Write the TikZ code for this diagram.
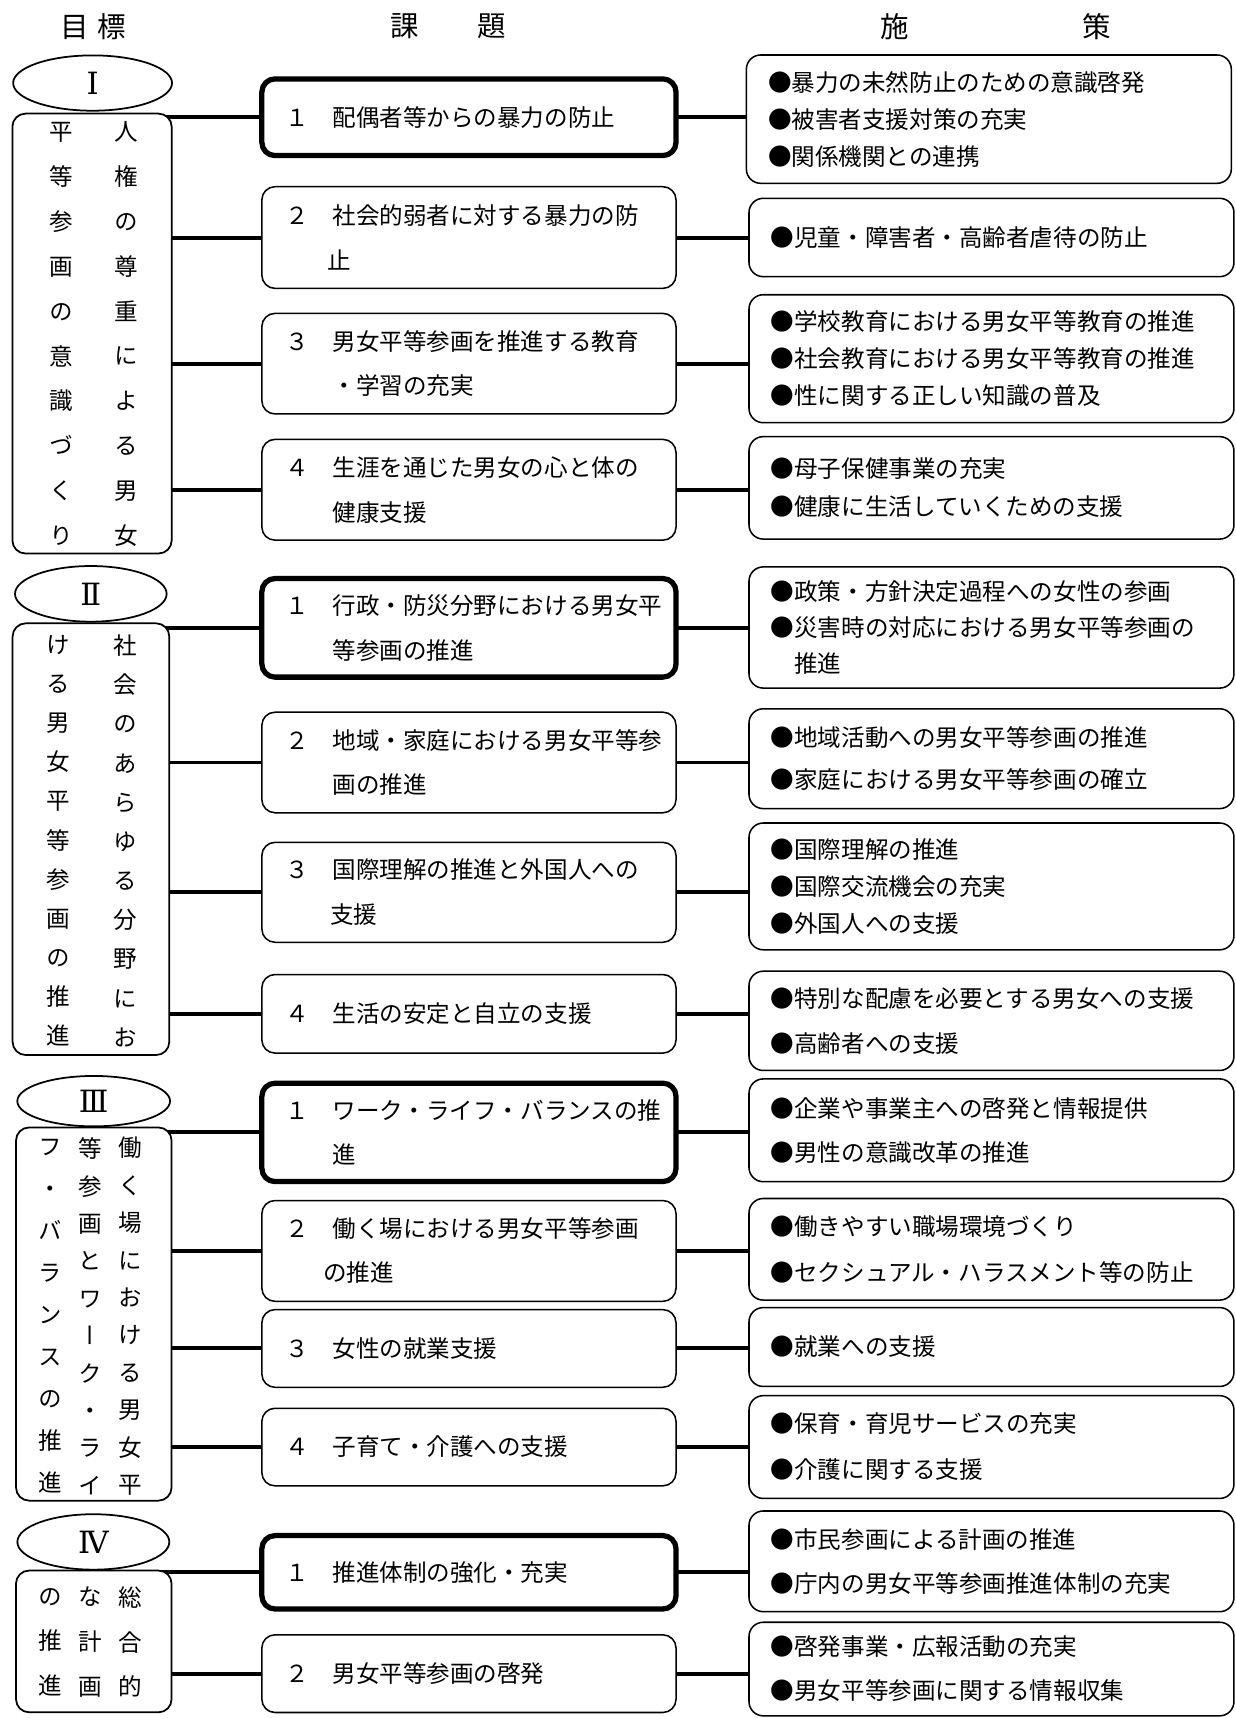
\documentclass[tikz,border=0pt]{standalone}
\usepackage{fontspec}
\setmainfont{Noto Sans CJK JP}
\newfontfamily\vertfont[RawFeature={+vert}]{Noto Sans CJK JP}
\newfontfamily\numfont{DejaVu Serif}
\usetikzlibrary{shapes.geometric,backgrounds}
\begin{document}
\begin{tikzpicture}[x=0.5pt,y=-0.5pt,
  every node/.style={font=\fontsize{10.75pt}{13pt}\selectfont},
  conn/.style={line width=1.8pt},
  mbox/.style={draw, rounded corners=6pt, fill=white, line width=0.7pt, minimum width=189pt, text width=167.5pt, inner xsep=10.6pt, inner ysep=0pt, align=left},
  keybox/.style={mbox, line width=2.4pt},
  rbox/.style={draw, rounded corners=6.5pt, fill=white, line width=0.7pt, minimum width=221.3pt, text width=201.4pt, inner xsep=9.95pt, inner ysep=0pt, align=left},
  lbox/.style={draw, rounded corners=6pt, fill=white, line width=0.8pt, inner sep=0pt},
  goal/.style={draw, ellipse, fill=white, line width=0.8pt, inner sep=0pt, font=\fontsize{14pt}{16pt}\selectfont\numfont},
  vcol/.style={align=center, inner sep=0pt},
  ls/.style={font=\fontsize{10.75pt}{#1}\selectfont},
  vls/.style={font=\fontsize{10.75pt}{#1}\selectfont\vertfont},
  hdr/.style={font=\fontsize{13pt}{15pt}\selectfont},
]
\useasboundingbox (0,0) rectangle (1128,1568);

% headers
\node[hdr] (h1) at (85,24) {目\hspace{4pt}標};
\node[hdr] (h2) at (409,24) {課\hspace{27pt}題};
\node[hdr] (h3) at (909,24) {施\hspace{79pt}策};

% ---------- left: goals ----------
\node[lbox, minimum width=72.7pt, minimum height=200.75pt] (L1) at (84,304.45) {};
\node[goal, minimum width=72.5pt, minimum height=25.25pt] (E1) at (84.5,75.8) {Ⅰ};
\node[vcol, vls=20.47pt] (V1a) at (115.6,304.8) {人\\権\\の\\尊\\重\\に\\よ\\る\\男\\女};
\node[vcol, vls=20.47pt] (V1b) at (56.3,304.8) {平\\等\\参\\画\\の\\意\\識\\づ\\く\\り};

\node[lbox, minimum width=71.5pt, minimum height=197pt] (L2) at (83,765.9) {};
\node[goal, minimum width=69.2pt, minimum height=25.4pt] (E2) at (82.9,542) {Ⅱ};
\node[vcol, vls=17.87pt] (V2a) at (114,767.4) {社\\会\\の\\あ\\ら\\ゆ\\る\\分\\野\\に\\お};
\node[vcol, vls=17.87pt] (V2b) at (53.2,767.4) {け\\る\\男\\女\\平\\等\\参\\画\\の\\推\\進};

\node[lbox, minimum width=71pt, minimum height=170.3pt] (L3) at (85.6,1199.3) {};
\node[goal, minimum width=69.7pt, minimum height=23pt] (E3) at (85.5,1005) {Ⅲ};
\node[vcol, vls=17.07pt] (V3a) at (118.6,1201.3) {働\\く\\場\\に\\お\\け\\る\\男\\女\\平};
\node[vcol, vls=17.07pt] (V3b) at (82.1,1201.3) {等\\参\\画\\と\\ワ\\ー\\ク\\・\\ラ\\イ};
\node[vcol, vls=19.2pt] (V3c) at (45.6,1201.3) {フ\\・\\バ\\ラ\\ン\\ス\\の\\推\\進};

\node[lbox, minimum width=71pt, minimum height=64.7pt] (L4) at (85.6,1498.1) {};
\node[goal, minimum width=69.35pt, minimum height=25.3pt] (E4) at (85.2,1407.3) {Ⅳ};
\node[vcol, vls=20.4pt] (V4a) at (118.6,1498.7) {総\\合\\的};
\node[vcol, vls=20.4pt] (V4b) at (82.1,1498.7) {な\\計\\画};
\node[vcol, vls=20.4pt] (V4c) at (45.6,1498.7) {の\\推\\進};

% ---------- middle: issues ----------
\node[keybox, ls=20.5pt, minimum height=35pt] (M11) at (428,107) {１　配偶者等からの暴力の防止};
\node[mbox, ls=20.5pt, minimum height=46.4pt] (M12) at (428,216.8) {２　社会的弱者に対する暴力の防\\\hspace*{1.8em}止};
\node[mbox, ls=20.2pt, minimum height=45.9pt] (M13) at (428,331.9) {３　男女平等参画を推進する教育\\\hspace*{2em}・学習の充実};
\node[mbox, ls=20.5pt, minimum height=46pt] (M14) at (428,447) {４　生涯を通じた男女の心と体の\\\hspace*{2em}健康支援};

\node[keybox, ls=20.4pt, minimum height=45pt] (M21) at (428,573) {１　行政・防災分野における男女平\\\hspace*{2em}等参画の推進};
\node[mbox, ls=20.4pt, minimum height=45.9pt] (M22) at (428,695.9) {２　地域・家庭における男女平等参\\\hspace*{2em}画の推進};
\node[mbox, ls=20.4pt, minimum height=45.6pt] (M23) at (428,814.4) {３　国際理解の推進と外国人への\\\hspace*{1.9em}支援};
\node[mbox, ls=20.5pt, minimum height=35.85pt] (M24) at (428,925.3) {４　生活の安定と自立の支援};

\node[keybox, ls=20.2pt, minimum height=44.9pt] (M31) at (428,1033.5) {１　ワーク・ライフ・バランスの推\\\hspace*{2em}進};
\node[mbox, ls=20.1pt, minimum height=46pt] (M32) at (428,1141.7) {２　働く場における男女平等参画\\\hspace*{1.6em}の推進};
\node[mbox, ls=20.5pt, minimum height=35.45pt] (M33) at (428,1230.7) {３　女性の就業支援};
\node[mbox, ls=20.5pt, minimum height=35.4pt] (M34) at (428,1320.7) {４　子育て・介護への支援};

\node[keybox, ls=20.5pt, minimum height=33.5pt] (M41) at (428,1435) {１　推進体制の強化・充実};
\node[mbox, ls=20.5pt, minimum height=35.45pt] (M42) at (428,1527.5) {２　男女平等参画の啓発};

% ---------- right: measures ----------
\node[rbox, ls=16.85pt, minimum height=58.55pt] (R11) at (902.5,108.75) {●暴力の未然防止のための意識啓発\\●被害者支援対策の充実\\●関係機関との連携};
\node[rbox, ls=16.85pt, minimum height=35.75pt] (R12) at (904.9,216.75) {●児童・障害者・高齢者虐待の防止};
\node[rbox, ls=16.85pt, minimum height=58.4pt] (R13) at (904.9,327.4) {●学校教育における男女平等教育の推進\\●社会教育における男女平等教育の推進\\●性に関する正しい知識の普及};
\node[rbox, ls=17.5pt, minimum height=46.75pt] (R14) at (904.9,445.25) {●母子保健事業の充実\\●健康に生活していくための支援};

\node[rbox, ls=16.5pt, minimum height=55.3pt] (R21) at (904.9,572.7) {●政策・方針決定過程への女性の参画\\●災害時の対応における男女平等参画の\\　推進};
\node[rbox, ls=18.85pt, minimum height=45.55pt] (R22) at (904.9,692.45) {●地域活動への男女平等参画の推進\\●家庭における男女平等参画の確立};
\node[rbox, ls=16.9pt, minimum height=57.85pt] (R23) at (904.9,809) {●国際理解の推進\\●国際交流機会の充実\\●外国人への支援};
\node[rbox, ls=20.4pt, minimum height=45.3pt] (R24) at (904.9,931.7) {●特別な配慮を必要とする男女への支援\\●高齢者への支援};

\node[rbox, ls=20pt, minimum height=46.9pt] (R31) at (904.9,1031.6) {●企業や事業主への啓発と情報提供\\●男性の意識改革の推進};
\node[rbox, ls=21pt, minimum height=46.35pt] (R32) at (904.9,1140.2) {●働きやすい職場環境づくり\\●セクシュアル・ハラスメント等の防止};
\node[rbox, ls=20pt, minimum height=36pt] (R33) at (904.9,1229.4) {●就業への支援};
\node[rbox, ls=21pt, minimum height=46.9pt] (R34) at (904.9,1320.7) {●保育・育児サービスの充実\\●介護に関する支援};

\node[rbox, ls=20.1pt, minimum height=45.95pt] (R41) at (904.9,1425) {●市民参画による計画の推進\\●庁内の男女平等参画推進体制の充実};
\node[rbox, ls=20.1pt, minimum height=42.7pt] (R42) at (904.9,1523.3) {●啓発事業・広報活動の充実\\●男女平等参画に関する情報収集};

% ---------- connectors (behind the filled boxes) ----------
\begin{scope}[on background layer]
\fill[white] (0,0) rectangle (1128,1568);
\foreach \g/\m/\r in {L1/M11/R11, L1/M12/R12, L1/M13/R13, L1/M14/R14,
                      L2/M21/R21, L2/M22/R22, L2/M23/R23, L2/M24/R24,
                      L3/M31/R31, L3/M32/R32, L3/M33/R33, L3/M34/R34,
                      L4/M41/R41, L4/M42/R42}{
  \draw[conn] (\g.center |- \m.center) -- (\m.center);
  \draw[conn] (\m.center) -- (\r.center |- \m.center);
}
\end{scope}
\end{tikzpicture}
\end{document}
